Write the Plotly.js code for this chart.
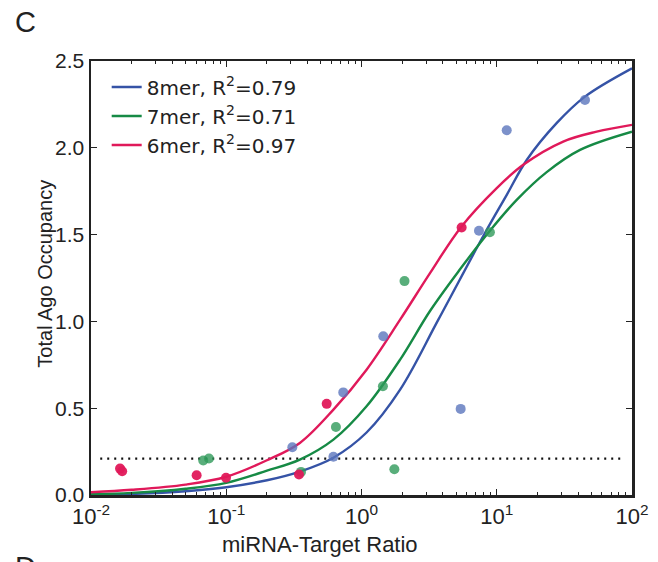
<!DOCTYPE html>
<html>
<head>
<meta charset="utf-8">
<script src="https://cdn.plot.ly/plotly-3.0.1.min.js"></script>
<style>html,body{margin:0;padding:0;background:#fff;}#chart{width:658px;height:562px;}</style>
</head>
<body>
<div id="chart"></div>
<script>
// Fitted curves
const curve8merX = [0.01, 0.02, 0.05, 0.1, 0.2, 0.35, 0.62, 1.09, 1.93, 3.70, 8.18, 11.86, 16.66, 27.7, 44.9, 100];
const curve8merY = [0.002, 0.006, 0.022, 0.045, 0.085, 0.135, 0.215, 0.36, 0.607, 1.010, 1.509, 1.729, 1.930, 2.142, 2.295, 2.458];
const curve7merX = [0.01, 0.02, 0.05, 0.1, 0.2, 0.35, 0.62, 1.09, 1.93, 3.21, 5.35, 8.81, 14.05, 23.4, 41.3, 100];
const curve7merY = [0.004, 0.012, 0.036, 0.07, 0.14, 0.204, 0.319, 0.511, 0.78, 1.06, 1.30, 1.518, 1.70, 1.86, 1.988, 2.093];
const curve6merX = [0.01, 0.02, 0.05, 0.1, 0.2, 0.35, 0.62, 1.09, 1.93, 3.21, 5.44, 10, 15.7, 31, 54.8, 100];
const curve6merY = [0.016, 0.03, 0.06, 0.105, 0.2, 0.30, 0.492, 0.722, 1.01, 1.278, 1.543, 1.768, 1.902, 2.036, 2.093, 2.132];

// Measured points
const pts8merX = [0.308, 0.62, 0.733, 1.449, 5.41, 7.39, 11.85, 44.9];
const pts8merY = [0.275, 0.22, 0.591, 0.914, 0.496, 1.522, 2.101, 2.275];
const pts7merX = [0.0676, 0.0745, 0.357, 0.647, 1.44, 1.75, 2.08, 8.9];
const pts7merY = [0.199, 0.21, 0.133, 0.392, 0.626, 0.148, 1.232, 1.514];
const pts6merX = [0.0164, 0.0170, 0.0604, 0.0996, 0.345, 0.553, 5.5];
const pts6merY = [0.152, 0.137, 0.114, 0.099, 0.118, 0.525, 1.541];

// Background threshold
const thresholdX = [0.0117, 86];
const thresholdY = [0.21, 0.21];

const seriesNames = ['8mer, R<sup>2</sup>=0.79', '7mer, R<sup>2</sup>=0.71', '6mer, R<sup>2</sup>=0.97'];
const xTickVals = [0.01, 0.1, 1, 10, 100];
const xTickText = ['10<sup>-2</sup>', '10<sup>-1</sup>', '10<sup>0</sup>', '10<sup>1</sup>', '10<sup>2</sup>'];
const yTickVals = [0, 0.5, 1.0, 1.5, 2.0, 2.5];

const colBlue = '#3553a6', colGreen = '#168a45', colRed = '#e0195a';
const mkBlue = '#5b76bd', mkGreen = '#2f9a5a', mkRed = '#e0195a';

const narrow = '"Liberation Sans Narrow", "Arial Narrow", "Liberation Sans", Arial, sans-serif';

const traces = [
  {x: thresholdX, y: thresholdY, mode: 'lines', line: {color: '#111', width: 2.2, dash: '2px,5px'}, showlegend: false, hoverinfo: 'skip'},
  {x: curve8merX, y: curve8merY, mode: 'lines', name: seriesNames[0], line: {color: colBlue, width: 2.4, shape: 'spline', smoothing: 1}},
  {x: curve7merX, y: curve7merY, mode: 'lines', name: seriesNames[1], line: {color: colGreen, width: 2.4, shape: 'spline', smoothing: 1}},
  {x: curve6merX, y: curve6merY, mode: 'lines', name: seriesNames[2], line: {color: colRed, width: 2.4, shape: 'spline', smoothing: 1}},
  {x: pts8merX, y: pts8merY, mode: 'markers', showlegend: false, marker: {color: mkBlue, size: 10, opacity: 0.8}},
  {x: pts7merX, y: pts7merY, mode: 'markers', showlegend: false, marker: {color: mkGreen, size: 10, opacity: 0.8}},
  {x: pts6merX, y: pts6merY, mode: 'markers', showlegend: false, marker: {color: mkRed, size: 10, opacity: 0.95}}
];

const layout = {
  width: 658, height: 562,
  margin: {l: 91, r: 26, t: 61, b: 67},
  paper_bgcolor: '#fff', plot_bgcolor: '#fff',
  font: {family: narrow, color: '#222', size: 21},
  showlegend: true,
  legend: {
    x: 0.029, y: 0.985, xanchor: 'left', yanchor: 'top',
    bgcolor: 'rgba(0,0,0,0)', borderwidth: 0,
    font: {family: '"DejaVu Sans", sans-serif', size: 20, color: '#222'},
    itemwidth: 30
  },
  xaxis: {
    type: 'log', range: [-2, 2],
    tickmode: 'array', tickvals: xTickVals, ticktext: xTickText,
    ticks: 'inside', ticklen: 6, tickwidth: 1.2, tickcolor: '#222',
    minor: {ticks: 'inside', ticklen: 3, tickwidth: 1, tickcolor: '#222', dtick: 'D1', showgrid: false},
    showline: true, linecolor: '#222', linewidth: 2.5, mirror: 'ticks',
    showgrid: false, zeroline: false,
    tickfont: {family: narrow, size: 22, color: '#222'}
  },
  yaxis: {
    range: [0, 2.5], tickvals: yTickVals, tickformat: '.1f',
    ticks: 'inside', ticklen: 6, tickwidth: 1.2, tickcolor: '#222',
    showline: true, linecolor: '#222', linewidth: 2.5, mirror: 'ticks',
    showgrid: false, zeroline: false,
    tickfont: {family: narrow, size: 21, color: '#222'}
  },
  annotations: [
    {text: 'C', xref: 'paper', yref: 'paper', x: -0.145, y: 1.09, xanchor: 'left', yanchor: 'middle', showarrow: false,
     font: {family: '"Liberation Sans", Arial, sans-serif', size: 29, color: '#222'}},
    {text: 'D', xref: 'paper', yref: 'paper', x: -0.145, y: -0.125, xanchor: 'left', yanchor: 'top', showarrow: false,
     font: {family: '"Liberation Sans", Arial, sans-serif', size: 29, color: '#222'}},
    {text: 'miRNA-Target Ratio', xref: 'paper', yref: 'paper', x: 0.423, y: -0.08, xanchor: 'center', yanchor: 'top', showarrow: false,
     font: {family: narrow, size: 22, color: '#222'}},
    {text: 'Total Ago Occupancy', xref: 'paper', yref: 'paper', x: -0.085, y: 0.51, xanchor: 'center', yanchor: 'middle', textangle: -90, showarrow: false,
     font: {family: narrow, size: 20, color: '#222'}}
  ]
};

Plotly.newPlot('chart', traces, layout, {displayModeBar: false, staticPlot: true});
</script>
</body>
</html>
